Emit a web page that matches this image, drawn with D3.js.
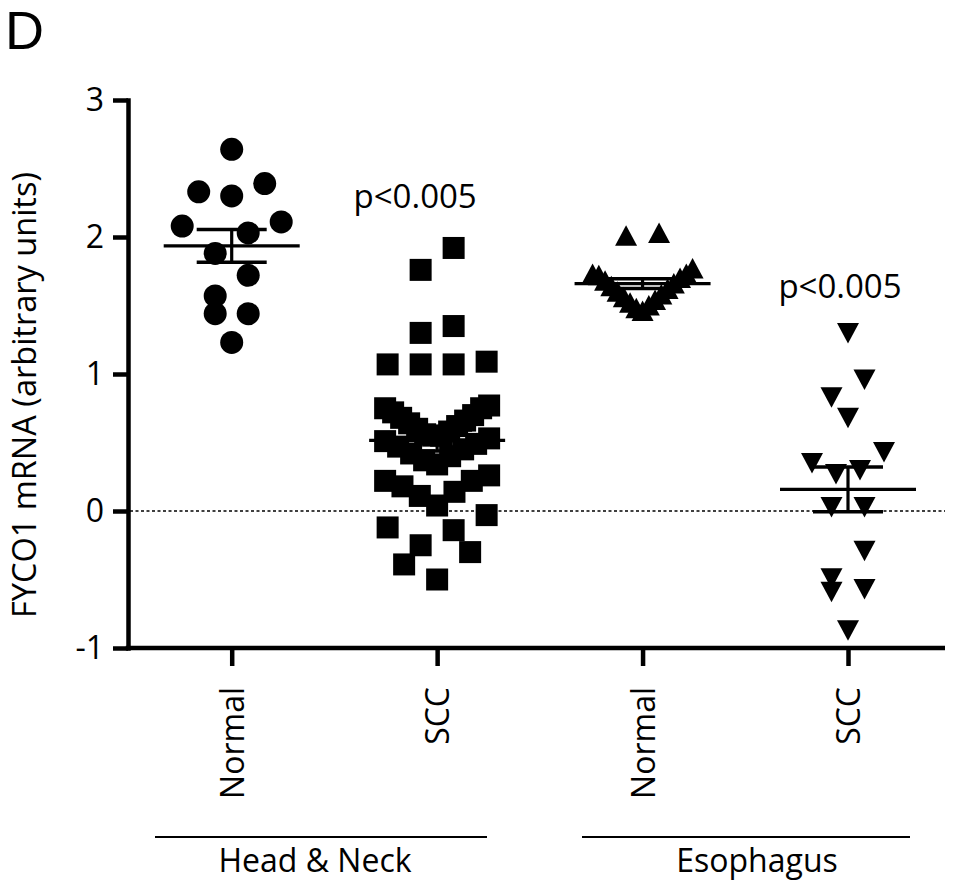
<!DOCTYPE html>
<html><head><meta charset="utf-8">
<script src="https://cdn.jsdelivr.net/npm/d3@7"></script>
<style>
body{margin:0;background:#fff}
svg{display:block}
text{font-family:"Open Sans",sans-serif;fill:#000}
</style>
</head><body>
<svg id="c" width="955" height="896"></svg>
<script>
// ---- data ----
const categories = ["Normal", "SCC", "Normal", "SCC"];
const tissues = ["Head & Neck", "Esophagus"];
const yTicks = [-1, 0, 1, 2, 3];
const yTitle = "FYCO1 mRNA (arbitrary units)";
const panelLabel = "D";
const pLabels = ["p<0.005", "p<0.005"];

const hnNormal = [2.64, 2.39, 2.33, 2.30, 2.11, 2.08, 2.03, 1.88, 1.72, 1.57, 1.44, 1.44, 1.23];
const hnSCC = [1.92, 1.76, 1.35, 1.30, 1.09, 1.07, 1.07, 1.07,
  0.77, 0.75, 0.75, 0.72, 0.70, 0.68, 0.66, 0.64, 0.62, 0.60, 0.58, 0.56, 0.55, 0.55,
  0.53, 0.51, 0.49, 0.47, 0.45, 0.42, 0.40, 0.37, 0.34,
  0.26, 0.22, 0.22, 0.18, 0.14, 0.11, 0.04, -0.03, -0.12, -0.14, -0.25, -0.30, -0.39, -0.50];
const escNormal = [2.03, 2.01, 1.77, 1.73, 1.73, 1.72, 1.70, 1.68, 1.66, 1.64, 1.62, 1.60,
  1.58, 1.56, 1.54, 1.52, 1.50, 1.48, 1.46];
const escSCC = [1.30, 0.96, 0.83, 0.68, 0.43, 0.35, 0.30, 0.27, 0.03, 0.03, -0.29, -0.49, -0.57, -0.59, -0.87];

const series = [hnNormal, hnSCC, escNormal, escSCC];

// ---- layout ----
const svg = d3.select("#c");
const y = d3.scaleLinear().domain([-1, 3]).range([648, 100]);
const x = d3.scalePoint().domain(d3.range(categories.length)).range([231.7, 848]);
const axisX0 = 128, axisX1 = 945;

// zero dotted line
svg.append("line")
  .attr("x1", axisX0 + 2).attr("x2", axisX1)
  .attr("y1", y(0)).attr("y2", y(0))
  .attr("stroke", "#000").attr("stroke-width", 1.4)
  .attr("stroke-dasharray", "3,2.5");

// Prism-like scatter placement: group close values into rows, spread each row,
// highest values outermost, width capped
function rowLayout(vals, h, gap, s, maxHalf) {
  const pts = vals.map(v => ({v: v, py: y(v), dx: 0}));
  const sorted = pts.slice().sort((a, b) => b.v - a.v);
  const rows = [];
  let cur = null;
  sorted.forEach(p => {
    if (!cur || cur[0].v - p.v > h || cur[cur.length - 1].v - p.v > gap) { cur = [p]; rows.push(cur); }
    else cur.push(p);
  });
  rows.forEach(r => {
    const n = r.length;
    const sp = n > 1 ? Math.min(s, 2 * maxHalf / (n - 1)) : 0;
    const slots = d3.range(n).map(j => (j - (n - 1) / 2) * sp);
    slots.sort((a, b) => (Math.abs(b) - Math.abs(a)) || (b - a));
    r.forEach((p, j) => { p.dx = slots[j]; });
  });
  return pts;
}

const layoutCfg = [
  {h: 0.235, gap: 0.2, s: 33, maxHalf: 52},
  {h: 0.235, gap: 0.2, s: 33, maxHalf: 52},
  {h: 0.32, gap: 0.2, s: 33, maxHalf: 50},
  {h: 0.235, gap: 0.2, s: 33, maxHalf: 36}
];

const shapes = [
  (g) => g.append("circle").attr("r", 11.5),
  (g) => g.append("rect").attr("x", -11).attr("y", -11).attr("width", 22).attr("height", 22),
  (g) => g.append("path").attr("d", "M0,-10.5L11,10L-11,10Z"),
  (g) => g.append("path").attr("d", "M0,10.5L11,-10L-11,-10Z")
];

series.forEach((vals, i) => {
  const c = layoutCfg[i];
  const pts = rowLayout(vals, c.h, c.gap, c.s, c.maxHalf);
  const grp = svg.append("g").attr("class", "grp" + i);
  pts.forEach(p => {
    const g = grp.append("g").attr("transform", `translate(${x(i) + p.dx},${p.py})`);
    shapes[i](g).attr("fill", "#000");
  });
});

// mean and SEM
series.forEach((vals, i) => {
  const m = d3.mean(vals);
  const sem = d3.deviation(vals) / Math.sqrt(vals.length);
  const cxp = x(i);
  const g = svg.append("g").attr("stroke", "#000").attr("fill", "none");
  g.append("line").attr("x1", cxp - 68).attr("x2", cxp + 68).attr("y1", y(m)).attr("y2", y(m)).attr("stroke-width", 3.2);
  g.append("line").attr("x1", cxp).attr("x2", cxp).attr("y1", y(m + sem)).attr("y2", y(m - sem)).attr("stroke-width", 3.2);
  [m + sem, m - sem].forEach(v => {
    g.append("line").attr("x1", cxp - 35).attr("x2", cxp + 35).attr("y1", y(v)).attr("y2", y(v)).attr("stroke-width", 3.6);
  });
});

// y axis
const ya = svg.append("g").attr("transform", `translate(${axisX0},0)`)
  .call(d3.axisLeft(y).tickValues(yTicks).tickSize(15).tickSizeOuter(0).tickPadding(9).tickFormat(d => String(d)));
ya.select(".domain").attr("stroke-width", 4.5).attr("stroke-linecap", "square");
ya.selectAll(".tick line").attr("stroke-width", 4.5);
ya.selectAll(".tick text").style("font-size", "32px").style("font-family", "'Open Sans',sans-serif").attr("fill", "#000");

// x axis
const xa = svg.append("g").attr("transform", `translate(0,${y(-1)})`)
  .call(d3.axisBottom(x).tickSize(18).tickSizeOuter(0).tickFormat(i => categories[i]));
xa.select(".domain").remove();
xa.selectAll(".tick line").attr("stroke-width", 4.5);
xa.selectAll(".tick text")
  .attr("x", 0).attr("y", 0).attr("dy", "0.36em")
  .attr("transform", "translate(0,39) rotate(-90)")
  .attr("text-anchor", "end")
  .style("font-size", "32px").style("font-family", "'Open Sans',sans-serif").attr("fill", "#000");
svg.append("line").attr("x1", axisX0 - 2.25).attr("x2", axisX1).attr("y1", y(-1)).attr("y2", y(-1))
  .attr("stroke", "#000").attr("stroke-width", 4.5);

// y title
svg.append("text").attr("transform", "translate(36,395) rotate(-90)")
  .attr("text-anchor", "middle").style("font-size", "32.5px").text(yTitle);

// panel label
svg.append("text").attr("x", 5).attr("y", 49)
  .style("font-family", "'Liberation Sans',Arial,sans-serif").style("font-size", "54px").text(panelLabel);

// p-values
svg.append("text").attr("x", x(1) - 22).attr("y", y(2.21)).attr("text-anchor", "middle").style("font-size", "33px").text(pLabels[0]);
svg.append("text").attr("x", x(3) - 8).attr("y", y(1.555)).attr("text-anchor", "middle").style("font-size", "33px").text(pLabels[1]);

// tissue group lines and labels
const groupSpans = [[155, 487, 315], [582, 910, 757]];
tissues.forEach((t, i) => {
  const s = groupSpans[i];
  svg.append("line").attr("x1", s[0]).attr("x2", s[1]).attr("y1", 837).attr("y2", 837)
    .attr("stroke", "#000").attr("stroke-width", 2);
  svg.append("text").attr("x", s[2]).attr("y", 872).attr("text-anchor", "middle").style("font-size", "32px").text(t);
});
</script>
</body></html>
